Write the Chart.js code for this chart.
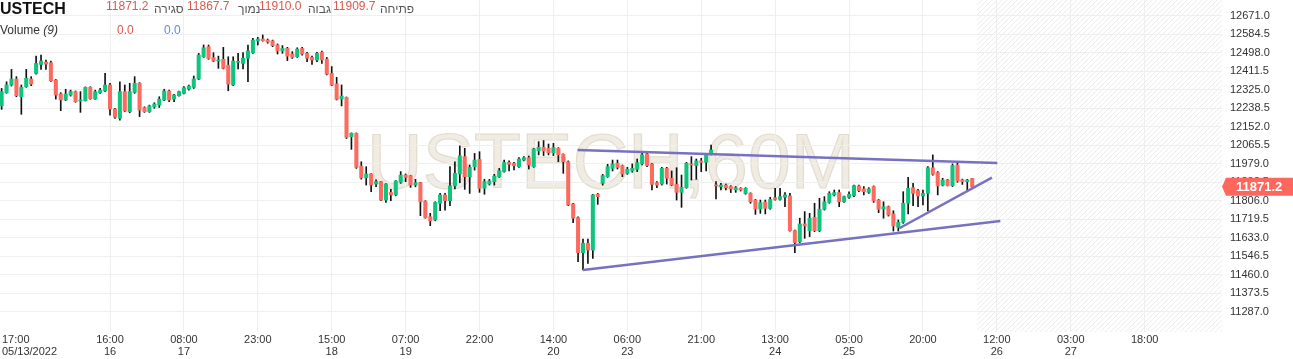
<!DOCTYPE html>
<html>
<head>
<meta charset="utf-8">
<script src="https://cdn.jsdelivr.net/npm/chart.js@4.4.0/dist/chart.umd.min.js"></script>
<style>
  html, body { margin: 0; padding: 0; background: #fff; }
</style>
</head>
<body>
<canvas id="myChart" width="1293" height="359"></canvas>
<script>
// USTECH 60M candles (bar 0 = 05/13 17:00)
const opens = [
  12249, 12311, 12347, 12375, 12292, 12339, 12375, 12401, 12443, 12454,
  12451, 12370, 12305, 12277, 12300, 12316, 12272, 12274, 12336, 12281,
  12311, 12319, 12347, 12235, 12191, 12316, 12222, 12313, 12355, 12241,
  12222, 12245, 12253, 12277, 12319, 12281, 12297, 12308, 12328, 12336,
  12375, 12479, 12526, 12475, 12459, 12467, 12440, 12347, 12453, 12448,
  12472, 12498, 12553, 12562, 12557, 12553, 12534, 12506, 12518, 12492,
  12479, 12518, 12495, 12476, 12464, 12500, 12468, 12401, 12352, 12281,
  12289, 12105, 12121, 11968, 11913, 11931, 11884, 11895, 11809, 11845,
  11833, 11892, 11926, 11923, 11879, 11890, 11804, 11731, 11716, 11794,
  11833, 11806, 11875, 11931, 12012, 11918, 11965, 11999, 11864, 11884,
  11895, 11918, 11942, 11985, 11981, 11965, 11996, 12007, 11965, 12040,
  12056, 12051, 12030, 12051, 12023, 11988, 11791, 11727, 11563, 11607,
  11575, 11836, 11887, 11918, 11957, 11981, 11970, 11934, 11945, 11953,
  11978, 12024, 11978, 11890, 11884, 11957, 11911, 11882, 11845, 11867,
  11978, 11970, 11992, 11985, 12023, 11879, 11872, 11879, 11872, 11856,
  11864, 11840, 11840, 11809, 11767, 11800, 11770, 11820, 11812, 11822,
  11828, 11666, 11614, 11697, 11666, 11728, 11666, 11766, 11798, 11833,
  11844, 11801, 11822, 11830, 11875, 11861, 11845, 11872, 11809, 11767,
  11778, 11744, 11681, 11705, 11794, 11867, 11853, 11828, 11840, 11960,
  11937, 11879, 11903, 11876, 11973, 11903, 11895, 11909.7
];
const highs = [
  12331, 12362, 12420, 12386, 12347, 12420, 12386, 12482, 12487, 12464,
  12459, 12373, 12311, 12327, 12323, 12319, 12316, 12338, 12339, 12323,
  12331, 12401, 12355, 12238, 12362, 12347, 12355, 12386, 12358, 12245,
  12253, 12264, 12292, 12327, 12323, 12303, 12319, 12339, 12347, 12389,
  12495, 12534, 12534, 12498, 12482, 12523, 12479, 12479, 12495, 12498,
  12534, 12565, 12570, 12581, 12562, 12557, 12539, 12531, 12523, 12503,
  12521, 12523, 12500, 12482, 12500, 12506, 12476, 12433, 12383, 12347,
  12291, 12123, 12123, 11988, 11965, 11933, 11903, 11897, 11886, 11859,
  11900, 11942, 11931, 11925, 11906, 11892, 11806, 11747, 11801, 11840,
  11840, 11965, 11988, 12062, 12051, 11973, 12027, 12035, 11906, 11906,
  11929, 11957, 11996, 11992, 11985, 12007, 12012, 12015, 12051, 12082,
  12087, 12071, 12074, 12054, 12025, 11992, 11794, 11731, 11627, 11627,
  11836, 11840, 11929, 11976, 11996, 11996, 11973, 11962, 11978, 12001,
  12035, 12035, 11981, 11895, 11962, 11962, 11945, 11960, 11926, 11985,
  12012, 12001, 12004, 12027, 12066, 11895, 11887, 11884, 11876, 11872,
  11867, 11867, 11843, 11812, 11809, 11809, 11822, 11864, 11864, 11844,
  11840, 11668, 11724, 11755, 11747, 11794, 11817, 11825, 11848, 11856,
  11856, 11828, 11848, 11879, 11879, 11872, 11867, 11875, 11812, 11801,
  11781, 11759, 11716, 11848, 11915, 11887, 11859, 11856, 11965, 12020,
  11942, 11911, 11906, 11978, 11981, 11907, 11906, 11910.0
];
const lows = [
  12233, 12308, 12342, 12292, 12210, 12336, 12344, 12398, 12420, 12420,
  12364, 12281, 12227, 12274, 12295, 12266, 12219, 12272, 12280, 12280,
  12308, 12316, 12206, 12191, 12183, 12222, 12217, 12308, 12199, 12219,
  12219, 12238, 12242, 12274, 12269, 12269, 12295, 12305, 12323, 12331,
  12372, 12476, 12467, 12456, 12425, 12422, 12320, 12344, 12422, 12422,
  12362, 12495, 12534, 12552, 12542, 12526, 12492, 12495, 12461, 12471,
  12476, 12487, 12456, 12443, 12456, 12448, 12394, 12344, 12277, 12249,
  12097, 12046, 11957, 11907, 11879, 11848, 11871, 11806, 11798, 11806,
  11829, 11887, 11895, 11868, 11871, 11736, 11724, 11689, 11712, 11759,
  11762, 11783, 11861, 11890, 11859, 11840, 11949, 11845, 11836, 11879,
  11879, 11915, 11939, 11945, 11950, 11962, 11992, 11954, 11962, 12020,
  12017, 12020, 12017, 11988, 11934, 11783, 11703, 11521, 11482, 11513,
  11536, 11789, 11879, 11915, 11945, 11954, 11918, 11929, 11939, 11942,
  11973, 11965, 11856, 11867, 11879, 11884, 11876, 11809, 11775, 11864,
  11903, 11906, 11942, 11945, 12020, 11814, 11856, 11856, 11844, 11845,
  11851, 11836, 11794, 11742, 11747, 11744, 11766, 11809, 11809, 11778,
  11663, 11563, 11610, 11630, 11638, 11661, 11661, 11762, 11794, 11828,
  11778, 11798, 11817, 11825, 11848, 11833, 11840, 11798, 11750, 11724,
  11734, 11664, 11664, 11700, 11744, 11783, 11778, 11786, 11758, 11925,
  11833, 11875, 11875, 11872, 11892, 11882, 11853, 11867.7
];
const closes = [
  12316, 12347, 12375, 12297, 12336, 12378, 12351, 12448, 12459, 12445,
  12367, 12300, 12277, 12305, 12316, 12269, 12277, 12336, 12283, 12316,
  12323, 12347, 12235, 12196, 12316, 12225, 12316, 12355, 12230, 12222,
  12249, 12258, 12281, 12319, 12277, 12300, 12316, 12334, 12342, 12375,
  12487, 12521, 12471, 12459, 12464, 12425, 12351, 12459, 12456, 12472,
  12506, 12557, 12562, 12554, 12548, 12531, 12506, 12518, 12482, 12476,
  12515, 12492, 12472, 12464, 12495, 12464, 12398, 12347, 12280, 12295,
  12102, 12121, 11962, 11913, 11931, 11879, 11895, 11809, 11884, 11833,
  11898, 11926, 11915, 11879, 11890, 11801, 11727, 11711, 11798, 11833,
  11806, 11875, 11934, 12016, 11918, 11962, 11996, 11864, 11895, 11898,
  11921, 11946, 11985, 11976, 11970, 12001, 12007, 11973, 12048, 12056,
  12038, 12030, 12054, 12020, 11988, 11786, 11724, 11563, 11607, 11575,
  11833, 11825, 11923, 11965, 11978, 11962, 11931, 11953, 11957, 11984,
  12020, 11970, 11882, 11879, 11957, 11911, 11879, 11845, 11868, 11981,
  11973, 11992, 11985, 12023, 12043, 11875, 11879, 11867, 11861, 11867,
  11856, 11864, 11801, 11767, 11797, 11770, 11812, 11812, 11825, 11833,
  11666, 11610, 11697, 11688, 11724, 11666, 11766, 11801, 11840, 11844,
  11801, 11825, 11836, 11876, 11853, 11848, 11861, 11805, 11766, 11778,
  11739, 11688, 11705, 11794, 11864, 11840, 11828, 11840, 11960, 11929,
  11875, 11903, 11876, 11970, 11898, 11895, 11903, 11871.2
];

// price axis ticks
const yTicks = [
  11287.0, 11373.5, 11460.0, 11546.5, 11633.0, 11719.5, 11806.0, 11892.5, 11979.0,
  12065.5, 12152.0, 12238.5, 12325.0, 12411.5, 12498.0, 12584.5, 12671.0
];

// time axis ticks (bar index, time, day)
const xTickPos = [5.66, 22, 37, 52, 67, 82, 97, 112, 127, 142, 157, 172, 187, 202, 217, 232];
const xTickTime = [
  "17:00         ", "16:00", "08:00", "23:00", "15:00", "07:00", "22:00", "14:00",
  "06:00", "21:00", "13:00", "05:00", "20:00", "12:00", "03:00", "18:00"
];
const xTickDay = [
  "05/13/2022", "16", "17", "", "18", "19", "", "20",
  "23", "", "24", "25", "", "26", "27", ""
];

// drawn trend lines: [bar index, price] pairs
const trendTop = [[116.9, 12043], [202.1, 11982]];
const trendBottom = [[118.0, 11482], [202.7, 11711]];
const trendShort = [[182.2, 11677], [201.0, 11913.5]];

const UP = "#0fc47c";
const DOWN = "#fd6b5f";
const LINE = "#7771c1";
const FONT = "'Liberation Sans', Arial, sans-serif";

const bodies = opens.map((o, i) => ({ x: i, y: [o, closes[i]] }));
const wicks = lows.map((l, i) => ({ x: i, y: [l, highs[i]] }));
const bodyColors = opens.map((o, i) => (closes[i] >= o ? UP : DOWN));

function trendSet(pts) {
  return {
    type: "line",
    data: pts.map((p) => ({ x: p[0], y: p[1] })),
    borderColor: LINE,
    borderWidth: 2.5,
    pointRadius: 0,
    order: 0,
  };
}

// watermark and the hatched future area, under everything
const backdrop = {
  id: "backdrop",
  beforeDraw(chart) {
    const { ctx, chartArea, scales } = chart;
    ctx.save();
    ctx.font = "77px " + FONT;
    ctx.textAlign = "center";
    ctx.textBaseline = "alphabetic";
    ctx.fillStyle = "#f0ece3";
    ctx.strokeStyle = "#e3ddcf";
    ctx.lineWidth = 1.2;
    const cx = (chartArea.left + chartArea.right) / 2;
    ctx.fillText("USTECH,60M", cx, 188);
    ctx.strokeText("USTECH,60M", cx, 188);

    const x0 = scales.x.getPixelForValue(closes.length);
    ctx.beginPath();
    ctx.rect(x0, chartArea.top, chartArea.right - x0, chartArea.bottom - chartArea.top);
    ctx.clip();
    ctx.strokeStyle = "#ececec";
    ctx.lineWidth = 1;
    ctx.beginPath();
    const h = chartArea.bottom - chartArea.top;
    for (let x = x0 - h; x < chartArea.right + 5; x += 5) {
      ctx.moveTo(x, chartArea.bottom);
      ctx.lineTo(x + h, chartArea.top);
    }
    ctx.stroke();
    ctx.restore();
  },
};

// legend header and last price tag
const overlay = {
  id: "overlay",
  afterDraw(chart) {
    const { ctx, chartArea, scales } = chart;
    ctx.save();
    ctx.textAlign = "left";
    ctx.textBaseline = "alphabetic";
    ctx.fillStyle = "#111";
    ctx.font = "bold 16px " + FONT;
    ctx.fillText("USTECH", 0, 14);

    const last = closes.length - 1;
    const head = [
      [closes[last].toFixed(1), 106, 10, "#d9594e"],
      ["סגירה", 154, 13, "#555"],
      [lows[last].toFixed(1), 187, 10, "#d9594e"],
      ["נמוך", 238, 13, "#555"],
      [highs[last].toFixed(1), 259, 10, "#d9594e"],
      ["גבוה", 308, 13, "#555"],
      [opens[last].toFixed(1), 333, 10, "#d9594e"],
      ["פתיחה", 380, 13, "#555"],
    ];
    ctx.font = "12px " + FONT;
    head.forEach(([t, x, y, c]) => {
      ctx.fillStyle = c;
      ctx.fillText(t, x, y);
    });

    ctx.fillStyle = "#333";
    ctx.fillText("Volume ", 0, 34);
    const w = ctx.measureText("Volume ").width;
    ctx.font = "italic 12px " + FONT;
    ctx.fillText("(9)", w, 34);
    ctx.font = "12px " + FONT;
    ctx.fillStyle = "#d9594e";
    ctx.fillText("0.0", 117, 34);
    ctx.fillStyle = "#5a8de0";
    ctx.fillText("0.0", 164, 34);

    // price tag
    const py = scales.y.getPixelForValue(closes[last]);
    const r = chartArea.right;
    ctx.fillStyle = "#ff675d";
    ctx.beginPath();
    ctx.moveTo(r, py);
    ctx.lineTo(r + 4, py - 9);
    ctx.lineTo(chart.width, py - 9);
    ctx.lineTo(chart.width, py + 9);
    ctx.lineTo(r + 4, py + 9);
    ctx.closePath();
    ctx.fill();
    ctx.fillStyle = "#fff";
    ctx.font = "bold 13px " + FONT;
    ctx.textBaseline = "middle";
    ctx.fillText(closes[last].toFixed(1), r + 14, py + 1);
    ctx.restore();
  },
};

const ctx = document.getElementById("myChart");

new Chart(ctx, {
  type: "bar",
  data: {
    datasets: [
      trendSet(trendTop),
      trendSet(trendBottom),
      trendSet(trendShort),
      {
        data: bodies,
        backgroundColor: bodyColors,
        barThickness: 3.4,
        minBarLength: 1,
        grouped: false,
        order: 1,
      },
      {
        data: wicks,
        backgroundColor: "#111",
        barThickness: 1,
        grouped: false,
        order: 2,
      },
    ],
  },
  options: {
    responsive: false,
    animation: false,
    devicePixelRatio: 1,
    layout: { padding: 0 },
    plugins: {
      legend: { display: false },
      tooltip: { enabled: false },
    },
    scales: {
      x: {
        type: "linear",
        min: -0.33,
        max: 247.7,
        offset: false,
        border: { display: false },
        grid: {
          offset: false,
          drawTicks: false,
          color: (c) => (c.index === 0 ? "rgba(0,0,0,0)" : "#efefef"),
        },
        ticks: {
          autoSkip: false,
          maxRotation: 0,
          padding: 2,
          color: "#333",
          font: { family: FONT, size: 11, lineHeight: "12px" },
          callback: (v, i) => [xTickTime[i], xTickDay[i]],
        },
        afterBuildTicks: (s) => {
          s.ticks = xTickPos.map((v) => ({ value: v }));
        },
        afterFit: (s) => {
          s.height = 27;
          s.paddingLeft = 0;
          s.paddingRight = 0;
        },
      },
      y: {
        type: "linear",
        position: "right",
        min: 11192,
        max: 12744.4,
        border: { display: false },
        grid: { drawTicks: false, color: "#efefef" },
        ticks: {
          padding: 8,
          color: "#333",
          font: { family: FONT, size: 11 },
          callback: (v) => Number(v).toFixed(1),
        },
        afterBuildTicks: (s) => {
          s.ticks = yTicks.map((v) => ({ value: v }));
        },
        afterFit: (s) => {
          s.width = 71;
          s.paddingTop = 0;
          s.paddingBottom = 0;
        },
      },
    },
  },
  plugins: [backdrop, overlay],
});
</script>
</body>
</html>
